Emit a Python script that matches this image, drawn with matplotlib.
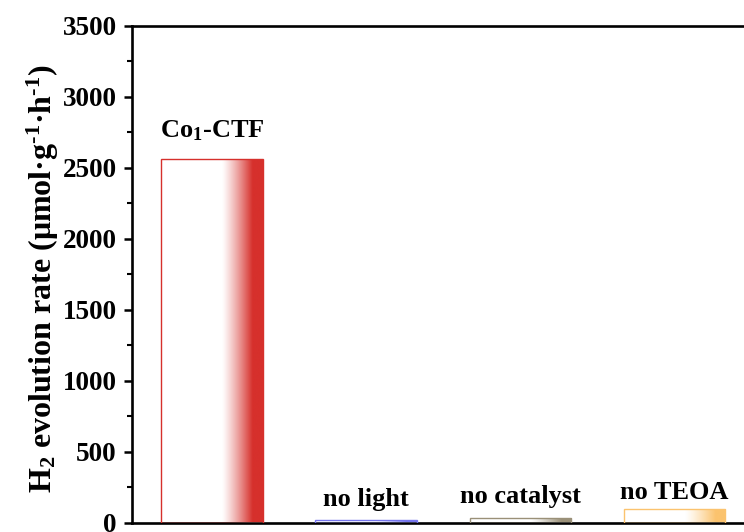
import numpy as np
import matplotlib
matplotlib.use("Agg")
import matplotlib.pyplot as plt
from matplotlib.colors import to_rgb

# H2 evolution rates (umol g^-1 h^-1) under different conditions
categories = ["Co$_1$-CTF", "no light", "no catalyst", "no TEOA"]
rates = [2560, 20, 30, 95]
bar_colors = ["#d6302c", "#7676ee", "#9a9078", "#fbc36e"]
label_offsets_px = [22, 14, 15, 10]
yticks = [0, 500, 1000, 1500, 2000, 2500, 3000, 3500]

plt.rcParams["font.family"] = ["Liberation Serif", "DejaVu Serif"]
plt.rcParams["font.weight"] = "bold"
plt.rcParams["mathtext.fontset"] = "custom"
plt.rcParams["mathtext.rm"] = "Liberation Serif:bold"
plt.rcParams["mathtext.it"] = "Liberation Serif:bold"
plt.rcParams["mathtext.bf"] = "Liberation Serif:bold"
plt.rcParams["mathtext.default"] = "bf"

W, H = 744, 532
fig = plt.figure(figsize=(W / 100, H / 100), dpi=100)
ax = fig.add_axes([132 / W, 1 - 522.5 / H, 700 / W, (522.5 - 26) / H])

x = np.arange(len(categories))
width = 0.658
bars = ax.bar(x, rates, width=width, facecolor="none", edgecolor=bar_colors,
              linewidth=1.0, zorder=3)

# horizontal gradient: white on the left, ramping to the bar colour on the right
n = 256
t = np.linspace(0, 1, n)
ramp = np.clip((t - 0.6) / 0.3, 0, 1) ** 1.2
for bar, col in zip(bars, bar_colors):
    c = np.array(to_rgb(col))
    img = (1 - ramp)[:, None] * np.ones(3) + ramp[:, None] * c
    img = img[None, :, :]
    x0, y0 = bar.get_x(), bar.get_y()
    im = ax.imshow(img, extent=[x0, x0 + bar.get_width(), y0, y0 + bar.get_height()],
                   aspect="auto", zorder=2, interpolation="bilinear")
    im.set_clip_path(bar)

for xi, v, lab, off in zip(x, rates, categories, label_offsets_px):
    ax.annotate(lab, (xi, v), xytext=(0, off * 0.72), textcoords="offset points",
                ha="center", va="baseline", fontsize=19, fontweight="bold")

ax.set_xlim(-0.518, (832 - 211.8) / 154.3)
ax.set_ylim(0, 3500)
ax.set_yticks(yticks)
ax.set_yticklabels([str(v) for v in yticks])
ax.yaxis.set_minor_locator(matplotlib.ticker.MultipleLocator(250))
ax.tick_params(axis="y", which="major", direction="out", length=6, width=1.8,
               labelsize=19.5, pad=5)
ax.tick_params(axis="y", which="minor", direction="out", length=3.5, width=1.5)
ax.set_xticks([])
for s in ax.spines.values():
    s.set_linewidth(1.9)
ax.spines["right"].set_visible(False)

fig.text(43 / W, 1 - 278.5 / H,
         r"H$_2$ evolution rate (μmol·g$^{\text{-1}}$·h$^{\text{-1}}$)",
         rotation=90, ha="center", va="center", fontsize=23, fontweight="bold")

fig.savefig("out.png", dpi=100)
